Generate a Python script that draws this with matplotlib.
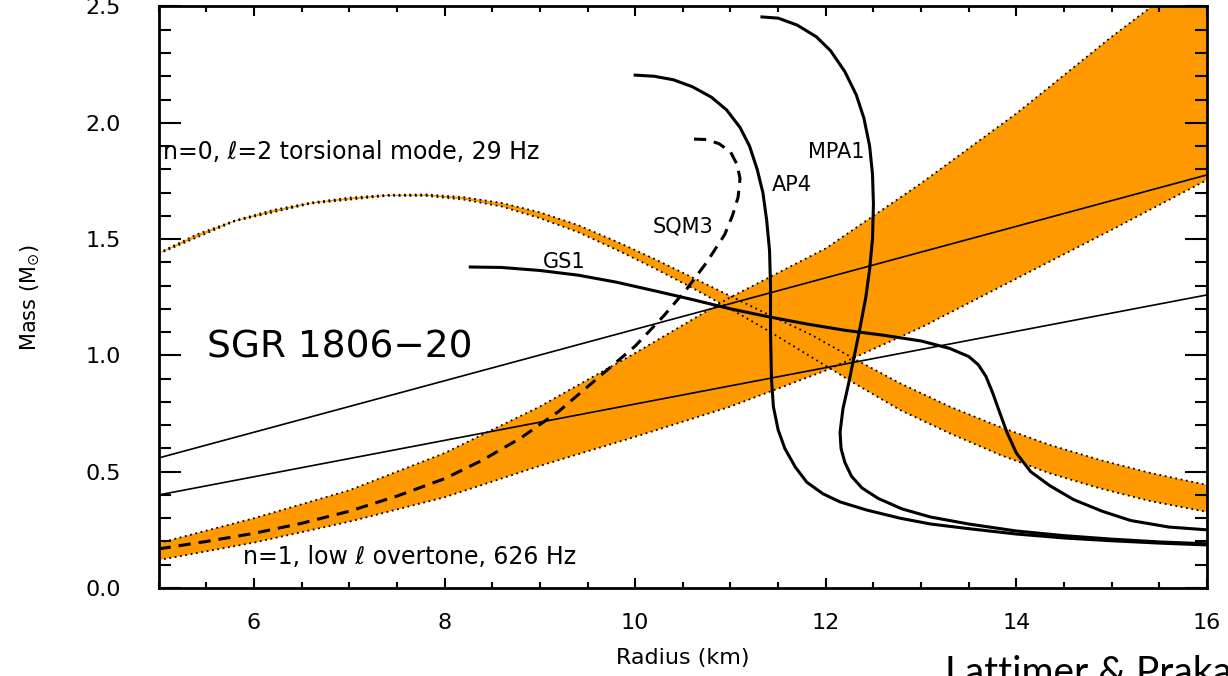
import numpy as np
import matplotlib
matplotlib.use("Agg")
import matplotlib.pyplot as plt
from matplotlib.ticker import MultipleLocator, FormatStrFormatter

ORANGE = "#ff9900"

# n=0, l=2 torsional mode (29 Hz) band edges: radius (km), mass (Msun)
tors_hi_R = [5.0, 5.4, 5.8, 6.2, 6.6, 7.0, 7.4, 7.8, 8.2, 8.6, 9.0, 9.4, 9.8, 10.2, 10.6, 11.0,
             11.4, 11.84, 12.3, 12.78, 13.3, 13.83, 14.35, 14.88, 15.4, 16.0]
tors_hi_M = [1.44, 1.52, 1.58, 1.625, 1.657, 1.678, 1.69, 1.692, 1.68, 1.655, 1.615, 1.56, 1.49,
             1.415, 1.335, 1.255, 1.175, 1.09, 0.985, 0.88, 0.78, 0.692, 0.615, 0.55, 0.495, 0.443]
tors_lo_R = [5.0, 5.8, 6.6, 7.4, 7.8, 8.2, 8.6, 9.0, 9.4, 9.8, 10.2, 10.6, 11.0, 11.4, 11.84,
             12.3, 12.78, 13.3, 13.83, 14.35, 14.88, 15.4, 16.0]
tors_lo_M = [1.437, 1.577, 1.653, 1.686, 1.686, 1.67, 1.64, 1.59, 1.53, 1.455, 1.375, 1.29, 1.2,
             1.105, 0.995, 0.88, 0.765, 0.665, 0.572, 0.493, 0.428, 0.374, 0.327]

# n=1, low-l overtone (626 Hz) band edges
over_hi_R = [5, 6, 7, 8, 9, 10, 11, 12, 13, 14, 15, 16]
over_hi_M = [0.193, 0.30, 0.42, 0.58, 0.78, 1.01, 1.25, 1.46, 1.74, 2.04, 2.37, 2.68]
over_lo_R = [5, 6, 7, 8, 9, 10, 11, 12, 13, 14, 15, 16]
over_lo_M = [0.12, 0.195, 0.285, 0.39, 0.525, 0.65, 0.78, 0.935, 1.12, 1.33, 1.54, 1.754]

# thin reference lines
lineA_R = [5.0, 16.0]
lineA_M = [0.559, 1.776]
lineB_R = [5.0, 16.0]
lineB_M = [0.40, 1.26]

# mass-radius curves for the equations of state
gs1_R = [8.27, 8.6, 9.0, 9.4, 9.8, 10.2, 10.6, 11.0, 11.4, 11.8, 12.2, 12.6, 13.0, 13.3, 13.5,
         13.6, 13.68, 13.75, 13.82, 13.9, 14.0, 14.15, 14.35, 14.6, 14.9, 15.2, 15.6, 16.0]
gs1_M = [1.38, 1.378, 1.365, 1.345, 1.315, 1.278, 1.24, 1.2, 1.166, 1.135, 1.108, 1.087, 1.062,
         1.03, 0.995, 0.96, 0.91, 0.84, 0.76, 0.67, 0.58, 0.50, 0.44, 0.38, 0.33, 0.29, 0.262, 0.25]

ap4_R = [10.0, 10.2, 10.4, 10.6, 10.8, 10.96, 11.1, 11.2, 11.28, 11.34, 11.38, 11.41, 11.42,
         11.42, 11.43, 11.45, 11.5, 11.57, 11.68, 11.8, 11.97, 12.15, 12.43, 12.78, 13.1, 13.5,
         14.0, 14.5, 15.0, 15.5, 16.0]
ap4_M = [2.205, 2.2, 2.185, 2.155, 2.11, 2.055, 1.98, 1.9, 1.8, 1.7, 1.58, 1.45, 1.3,
         1.1, 0.9, 0.78, 0.68, 0.6, 0.52, 0.455, 0.405, 0.37, 0.335, 0.30, 0.275, 0.255,
         0.232, 0.215, 0.203, 0.193, 0.185]

mpa1_R = [11.33, 11.5, 11.7, 11.9, 12.05, 12.2, 12.32, 12.4, 12.46, 12.49, 12.5, 12.49, 12.46,
          12.42, 12.36, 12.3, 12.24, 12.18, 12.15, 12.16, 12.2, 12.27, 12.38, 12.55, 12.8, 13.1,
          13.5, 14.0, 14.5, 15.0, 15.5, 16.0]
mpa1_M = [2.455, 2.45, 2.42, 2.37, 2.31, 2.22, 2.12, 2.02, 1.9, 1.78, 1.65, 1.5, 1.37,
          1.25, 1.12, 1.0, 0.88, 0.77, 0.67, 0.6, 0.54, 0.48, 0.43, 0.385, 0.34, 0.305,
          0.275, 0.245, 0.225, 0.21, 0.198, 0.19]

sqm3_R = [5.0, 5.5, 6.0, 6.5, 7.0, 7.5, 8.0, 8.4, 8.8, 9.2, 9.6, 10.0, 10.3, 10.55, 10.75, 10.94,
          11.02, 11.08, 11.1, 11.07, 11.0, 10.88, 10.75, 10.61]
sqm3_M = [0.168, 0.2, 0.235, 0.278, 0.33, 0.395, 0.47, 0.55, 0.645, 0.76, 0.9, 1.04, 1.17, 1.29,
          1.4, 1.52, 1.6, 1.68, 1.76, 1.82, 1.875, 1.91, 1.928, 1.93]

# curve labels: text, radius, mass
eos_labels = [("GS1", 9.26, 1.40), ("SQM3", 10.50, 1.552), ("AP4", 11.64, 1.733), ("MPA1", 12.11, 1.874)]

plt.rcParams["font.family"] = ["DejaVu Sans"]

fig = plt.figure(figsize=(12.28, 6.76), dpi=100)
ax = fig.add_axes([0.1292, 0.1302, 0.8537, 0.8602])

dotted = (0, (1, 2))

def band(rh, mh, rl, ml):
    xs = np.concatenate([rh, rl[::-1]])
    ys = np.concatenate([mh, ml[::-1]])
    ax.fill(xs, ys, color=ORANGE, lw=0, zorder=1)

band(np.array(over_hi_R), np.array(over_hi_M), np.array(over_lo_R), np.array(over_lo_M))
band(np.array(tors_hi_R), np.array(tors_hi_M), np.array(tors_lo_R), np.array(tors_lo_M))

for r, m in [(over_hi_R, over_hi_M), (over_lo_R, over_lo_M), (tors_hi_R, tors_hi_M), (tors_lo_R, tors_lo_M)]:
    ax.plot(r, m, color="black", lw=1.3, ls=dotted, zorder=2)

ax.plot(lineA_R, lineA_M, color="black", lw=1.2, zorder=3)
ax.plot(lineB_R, lineB_M, color="black", lw=1.2, zorder=3)

for r, m in [(gs1_R, gs1_M), (ap4_R, ap4_M), (mpa1_R, mpa1_M)]:
    ax.plot(r, m, color="black", lw=2.2, zorder=4, solid_joinstyle="round")
ax.plot(sqm3_R, sqm3_M, color="black", lw=2.2, ls=(0, (4, 2.6)), zorder=4)

for name, r, m in eos_labels:
    ax.text(r, m, name, fontsize=15, ha="center", va="center", zorder=5)

ax.text(5.05, 1.875, "n=0, \u2113=2 torsional mode, 29 Hz", fontsize=17, ha="left", va="center", zorder=5)
ax.text(5.89, 0.133, "n=1, low \u2113 overtone, 626 Hz", fontsize=17, ha="left", va="center", zorder=5)
ax.text(5.51, 1.036, "SGR 1806\u221220", fontsize=27, ha="left", va="center", zorder=5)

ax.set_xlim(5, 16)
ax.set_ylim(0, 2.5)
ax.xaxis.set_major_locator(MultipleLocator(2))
ax.xaxis.set_minor_locator(MultipleLocator(0.5))
ax.yaxis.set_major_locator(MultipleLocator(0.5))
ax.yaxis.set_minor_locator(MultipleLocator(0.1))
ax.yaxis.set_major_formatter(FormatStrFormatter("%.1f"))

ax.tick_params(axis="x", which="major", direction="in", top=True, bottom=True,
               length=7.5, width=1.5, pad=18, labelsize=16)
ax.tick_params(axis="x", which="minor", direction="in", top=True, bottom=True,
               length=4.2, width=1.5)
ax.tick_params(axis="y", which="major", direction="in", left=True, right=True,
               length=15.5, width=1.5, pad=27, labelsize=16)
ax.tick_params(axis="y", which="minor", direction="in", left=True, right=True,
               length=8.5, width=1.5)
for s in ax.spines.values():
    s.set_linewidth(2)

ax.set_xlabel("Radius (km)", fontsize=16)
ax.xaxis.set_label_coords(0.5, -0.104)
ax.xaxis.label.set_va("top")
ax.set_ylabel("Mass (M$_{\\odot}$)", fontsize=15)
ax.yaxis.set_label_coords(-0.111, 0.5)

fig.text(945 / 1228, -0.012, "Lattimer & Prakash", fontsize=28, family="Lato",
         ha="left", va="baseline")

fig.savefig("out.png", dpi=100)
